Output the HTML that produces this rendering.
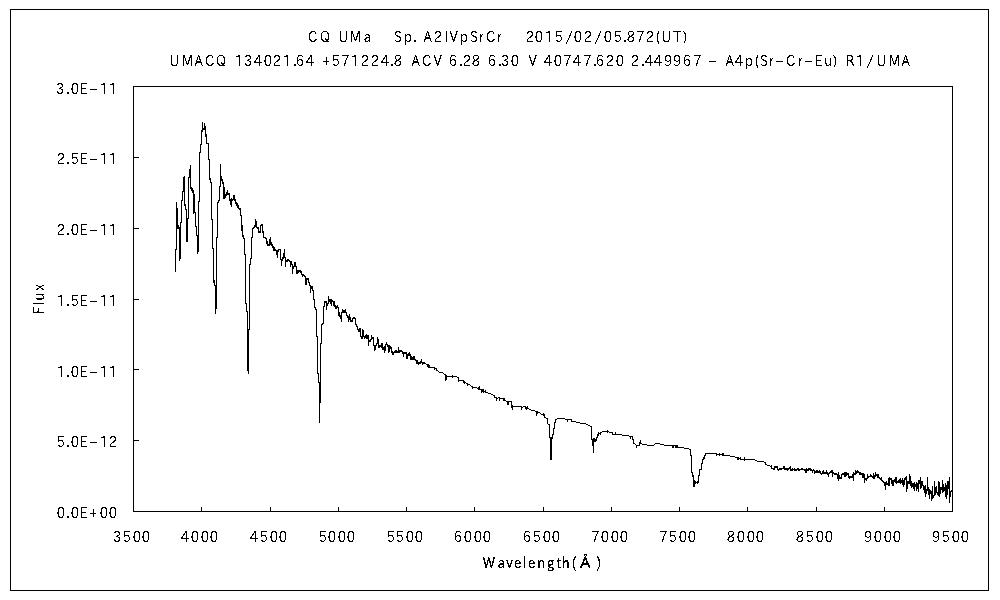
<!DOCTYPE html>
<html lang="ja">
<head>
<meta charset="utf-8">
<title>CQ UMa spectrum</title>
<style>
html,body{margin:0;padding:0;background:#fff;}
body{width:1000px;height:600px;overflow:hidden;}
svg{display:block;}
text{font-family:IPAPGothic, 'DejaVu Sans', 'Liberation Sans', sans-serif;font-size:15.3px;fill:#000;white-space:pre;}
</style>
</head>
<body>
<svg width="1000" height="600" viewBox="0 0 1000 600">
<defs>
<filter id="crisp" x="0" y="0" width="1000" height="600" filterUnits="userSpaceOnUse" color-interpolation-filters="sRGB">
<feComponentTransfer><feFuncA type="discrete" tableValues="0 0 0 0 0 0 0 0 0 1 1 1 1 1 1 1 1 1 1 1"/></feComponentTransfer>
</filter>
<filter id="crisp2" x="0" y="0" width="1000" height="600" filterUnits="userSpaceOnUse" color-interpolation-filters="sRGB">
<feComponentTransfer><feFuncA type="discrete" tableValues="0 0 0 0 0 0 0 1 1 1 1 1 1 1 1 1 1 1 1 1"/></feComponentTransfer>
</filter>
</defs>
<rect x="0" y="0" width="1000" height="600" fill="#fff"/>
<g fill="none" stroke="#000" stroke-width="1" shape-rendering="crispEdges">
<rect x="10.5" y="9.5" width="978" height="581"/>
<rect x="133.5" y="86.5" width="819" height="425"/>
<path d="M201.5 507v4M270.5 507v4M338.5 507v4M406.5 507v4M474.5 507v4M543.5 507v4M611.5 507v4M679.5 507v4M747.5 507v4M816.5 507v4M884.5 507v4M134 157.5h5M134 228.5h5M134 299.5h5M134 369.5h5M134 440.5h5"/>
<path d="M175.5 249v23M176.5 202v48M177.5 208v21M178.5 225v4M179.5 227v34M180.5 222v37M181.5 200v23M182.5 191v10M183.5 177v15M184.5 176v30M185.5 204v6M186.5 209v33M187.5 218v24M188.5 177v42M189.5 169v9M190.5 165v24M191.5 187v4M192.5 188v5M193.5 190v24M194.5 194v19M195.5 212v15M196.5 226v10M197.5 235v19M198.5 201v51M199.5 152v50M200.5 144v9M201.5 130v15M202.5 122v10M203.5 128v2M204.5 123v7M205.5 126v11M206.5 134v10M207.5 143v1M208.5 143v17M209.5 159v21M210.5 178v5M211.5 182v38M212.5 219v30M213.5 248v35M214.5 280v6M215.5 285v29M216.5 237v72M217.5 202v36M218.5 200v3M219.5 186v15M220.5 164v23M221.5 176v5M222.5 179v5M223.5 182v17M224.5 187v12M225.5 194v4M226.5 192v4M227.5 190v5M228.5 193v2M229.5 193v8M230.5 199v6M231.5 198v9M232.5 199v2M233.5 195v5M234.5 195v6M235.5 199v5M236.5 202v4M237.5 203v5M238.5 205v4M239.5 208v2M240.5 208v8M241.5 215v16M242.5 225v12M243.5 235v4M244.5 238v17M245.5 254v50M246.5 303v9M247.5 311v60M248.5 329v45M249.5 264v66M250.5 258v7M251.5 237v22M252.5 228v10M253.5 227v2M254.5 225v3M255.5 219v8M256.5 221v7M257.5 227v2M258.5 227v6M259.5 231v2M260.5 225v8M261.5 224v2M262.5 224v9M263.5 231v7M264.5 237v1M265.5 237v2M266.5 238v6M267.5 241v5M268.5 244v2M269.5 239v7M270.5 237v8M271.5 242v4M272.5 244v4M273.5 246v5M274.5 247v4M275.5 249v2M276.5 250v5M277.5 250v8M278.5 249v3M279.5 249v1M280.5 249v11M281.5 259v7M282.5 257v4M283.5 253v6M284.5 249v9M285.5 257v10M286.5 260v2M287.5 259v3M288.5 259v2M289.5 260v2M290.5 261v6M291.5 261v4M292.5 264v10M293.5 266v3M294.5 262v5M295.5 262v5M296.5 266v8M297.5 270v4M298.5 270v3M299.5 270v2M300.5 270v3M301.5 271v4M302.5 274v3M303.5 274v2M304.5 275v2M305.5 276v9M306.5 278v7M307.5 278v2M308.5 278v5M309.5 282v4M310.5 285v8M311.5 286v3M312.5 286v5M313.5 290v10M314.5 299v9M315.5 307v3M316.5 309v28M317.5 336v38M318.5 373v10M319.5 382v41M320.5 343v60M321.5 324v20M322.5 323v2M323.5 306v18M324.5 301v6M325.5 301v2M326.5 301v9M327.5 303v3M328.5 296v8M329.5 299v3M330.5 299v5M331.5 299v7M332.5 300v2M333.5 301v5M334.5 301v6M335.5 305v4M336.5 306v3M337.5 305v3M338.5 307v9M339.5 312v5M340.5 315v4M341.5 312v10M342.5 309v4M343.5 310v3M344.5 310v3M345.5 309v4M346.5 312v4M347.5 315v3M348.5 316v6M349.5 314v6M350.5 317v5M351.5 320v2M352.5 318v4M353.5 317v2M354.5 317v2M355.5 318v7M356.5 324v3M357.5 326v4M358.5 329v3M359.5 328v4M360.5 328v9M361.5 336v3M362.5 329v10M363.5 330v7M364.5 336v3M365.5 335v3M366.5 334v5M367.5 335v4M368.5 335v11M369.5 340v2M370.5 339v3M371.5 335v5M372.5 337v2M373.5 337v9M374.5 345v6M375.5 345v5M376.5 343v3M377.5 337v7M378.5 339v9M379.5 345v3M380.5 345v2M381.5 343v5M382.5 343v7M383.5 347v3M384.5 346v7M385.5 344v7M386.5 342v3M387.5 344v3M388.5 345v8M389.5 345v7M390.5 346v3M391.5 347v6M392.5 351v4M393.5 352v3M394.5 351v2M395.5 350v3M396.5 350v3M397.5 351v2M398.5 347v6M399.5 350v3M400.5 350v2M401.5 350v2M402.5 351v3M403.5 352v5M404.5 352v2M405.5 352v2M406.5 352v7M407.5 354v5M408.5 353v3M409.5 352v4M410.5 354v6M411.5 356v4M412.5 357v3M413.5 356v4M414.5 356v4M415.5 359v2M416.5 360v4M417.5 360v4M418.5 362v3M419.5 362v2M420.5 361v3M421.5 359v4M422.5 362v3M423.5 362v2M424.5 362v2M425.5 363v1M426.5 364v1M427.5 364v3M428.5 364v4M429.5 365v3M430.5 367v1M431.5 367v1M432.5 367v1M433.5 367v1M434.5 367v3M435.5 368v1M436.5 368v3M437.5 370v1M438.5 371v1M439.5 372v1M440.5 372v1M441.5 372v1M442.5 372v1M443.5 373v1M444.5 374v1M445.5 374v7M446.5 375v5M447.5 376v1M448.5 376v1M449.5 376v1M450.5 376v1M451.5 376v1M452.5 375v3M453.5 376v1M454.5 376v1M455.5 376v1M456.5 376v1M457.5 377v1M458.5 377v5M459.5 380v1M460.5 380v1M461.5 380v1M462.5 380v1M463.5 380v3M464.5 381v3M465.5 382v1M466.5 383v1M467.5 383v3M468.5 384v1M469.5 384v1M470.5 385v1M471.5 386v1M472.5 386v3M473.5 387v1M474.5 387v1M475.5 387v1M476.5 387v1M477.5 388v1M478.5 387v3M479.5 386v4M480.5 389v1M481.5 389v4M482.5 389v3M483.5 389v4M484.5 391v1M485.5 390v3M486.5 392v1M487.5 392v1M488.5 393v1M489.5 393v1M490.5 393v1M491.5 394v1M492.5 394v1M493.5 395v1M494.5 395v3M495.5 397v1M496.5 397v4M497.5 398v1M498.5 397v1M499.5 397v4M500.5 398v1M501.5 398v1M502.5 398v1M503.5 398v3M504.5 398v3M505.5 400v1M506.5 401v1M507.5 401v4M508.5 401v4M509.5 401v1M510.5 401v1M511.5 401v7M512.5 405v5M513.5 406v1M514.5 406v1M515.5 406v1M516.5 406v1M517.5 406v1M518.5 406v1M519.5 406v1M520.5 406v1M521.5 406v4M522.5 407v1M523.5 406v1M524.5 406v1M525.5 406v3M526.5 407v3M527.5 406v3M528.5 408v1M529.5 409v1M530.5 409v1M531.5 410v1M532.5 410v1M533.5 410v1M534.5 410v1M535.5 411v1M536.5 411v5M537.5 411v3M538.5 412v1M539.5 412v1M540.5 413v1M541.5 414v1M542.5 414v1M543.5 413v3M544.5 414v4M545.5 417v1M546.5 418v1M547.5 418v6M548.5 424v1M549.5 424v14M550.5 437v23M551.5 437v23M552.5 434v5M553.5 428v7M554.5 422v7M555.5 419v4M556.5 419v1M557.5 418v1M558.5 418v1M559.5 418v1M560.5 418v1M561.5 418v1M562.5 418v1M563.5 418v1M564.5 418v1M565.5 419v1M566.5 419v1M567.5 419v3M568.5 419v1M569.5 419v1M570.5 419v1M571.5 419v3M572.5 421v1M573.5 421v1M574.5 421v1M575.5 421v1M576.5 422v1M577.5 422v1M578.5 422v1M579.5 422v1M580.5 423v1M581.5 423v1M582.5 423v1M583.5 423v1M584.5 423v1M585.5 423v1M586.5 424v1M587.5 424v1M588.5 425v1M589.5 425v1M590.5 426v1M591.5 426v14M592.5 439v7M593.5 438v15M594.5 438v4M595.5 439v3M596.5 437v4M597.5 434v4M598.5 432v4M599.5 433v1M600.5 432v3M601.5 432v1M602.5 431v1M603.5 431v1M604.5 431v1M605.5 431v1M606.5 431v1M607.5 430v3M608.5 431v1M609.5 432v1M610.5 432v1M611.5 432v1M612.5 432v3M613.5 434v1M614.5 434v1M615.5 432v3M616.5 434v1M617.5 434v1M618.5 434v1M619.5 434v1M620.5 434v1M621.5 434v1M622.5 435v1M623.5 435v1M624.5 435v1M625.5 435v1M626.5 435v1M627.5 435v1M628.5 435v1M629.5 436v1M630.5 436v3M631.5 436v1M632.5 436v4M633.5 439v5M634.5 443v1M635.5 444v1M636.5 445v3M637.5 445v1M638.5 445v1M639.5 442v4M640.5 440v4M641.5 443v1M642.5 444v1M643.5 444v1M644.5 444v1M645.5 444v1M646.5 444v1M647.5 445v1M648.5 445v1M649.5 445v1M650.5 445v1M651.5 445v1M652.5 445v1M653.5 445v1M654.5 444v1M655.5 443v1M656.5 443v1M657.5 443v1M658.5 443v1M659.5 443v1M660.5 444v1M661.5 444v1M662.5 444v1M663.5 444v1M664.5 445v1M665.5 445v1M666.5 445v1M667.5 445v1M668.5 445v1M669.5 445v1M670.5 445v1M671.5 445v1M672.5 445v3M673.5 445v3M674.5 445v1M675.5 445v3M676.5 445v3M677.5 445v3M678.5 447v1M679.5 447v1M680.5 447v1M681.5 447v1M682.5 447v1M683.5 447v1M684.5 448v1M685.5 448v1M686.5 448v1M687.5 448v1M688.5 448v1M689.5 449v1M690.5 449v7M691.5 455v18M692.5 472v5M693.5 475v12M694.5 480v7M695.5 481v3M696.5 482v1M697.5 481v3M698.5 475v8M699.5 469v7M700.5 469v1M701.5 463v7M702.5 459v5M703.5 457v3M704.5 455v4M705.5 453v3M706.5 453v1M707.5 453v1M708.5 453v1M709.5 453v1M710.5 453v1M711.5 453v1M712.5 453v1M713.5 453v1M714.5 453v1M715.5 453v1M716.5 453v3M717.5 454v1M718.5 454v1M719.5 453v3M720.5 454v1M721.5 454v1M722.5 453v3M723.5 453v3M724.5 455v1M725.5 455v1M726.5 455v1M727.5 455v1M728.5 455v1M729.5 455v1M730.5 456v1M731.5 456v1M732.5 456v1M733.5 456v1M734.5 456v1M735.5 457v1M736.5 457v1M737.5 457v3M738.5 457v3M739.5 458v1M740.5 457v3M741.5 459v1M742.5 459v1M743.5 459v1M744.5 457v4M745.5 459v1M746.5 459v1M747.5 459v1M748.5 459v1M749.5 459v1M750.5 459v1M751.5 459v1M752.5 459v1M753.5 459v1M754.5 459v1M755.5 460v1M756.5 460v1M757.5 461v1M758.5 461v1M759.5 461v1M760.5 461v1M761.5 461v1M762.5 461v1M763.5 461v1M764.5 462v1M765.5 462v3M766.5 464v1M767.5 465v1M768.5 465v1M769.5 465v1M770.5 466v1M771.5 465v4M772.5 468v1M773.5 468v2M774.5 466v4M775.5 466v2M776.5 466v2M777.5 466v4M778.5 469v2M779.5 468v2M780.5 468v2M781.5 468v2M782.5 468v1M783.5 466v3M784.5 466v4M785.5 468v2M786.5 468v2M787.5 468v3M788.5 468v2M789.5 467v2M790.5 466v5M791.5 469v2M792.5 468v3M793.5 469v1M794.5 468v3M795.5 469v2M796.5 469v2M797.5 468v2M798.5 468v3M799.5 469v2M800.5 469v1M801.5 468v2M802.5 468v2M803.5 469v1M804.5 469v2M805.5 469v4M806.5 468v5M807.5 469v2M808.5 468v3M809.5 468v2M810.5 468v3M811.5 469v2M812.5 470v3M813.5 469v2M814.5 470v4M815.5 471v2M816.5 470v3M817.5 470v3M818.5 471v2M819.5 470v3M820.5 471v3M821.5 473v2M822.5 471v3M823.5 470v4M824.5 472v2M825.5 472v2M826.5 470v4M827.5 472v3M828.5 473v4M829.5 472v2M830.5 471v2M831.5 470v3M832.5 470v7M833.5 472v2M834.5 473v2M835.5 473v2M836.5 473v2M837.5 474v5M838.5 472v9M839.5 475v4M840.5 477v2M841.5 474v5M842.5 473v2M843.5 473v2M844.5 472v5M845.5 472v5M846.5 472v4M847.5 473v2M848.5 473v5M849.5 476v3M850.5 476v2M851.5 476v2M852.5 474v4M853.5 472v9M854.5 473v2M855.5 470v5M856.5 471v3M857.5 470v3M858.5 471v2M859.5 472v3M860.5 472v3M861.5 473v2M862.5 473v5M863.5 473v5M864.5 474v9M865.5 478v2M866.5 478v3M867.5 474v5M868.5 476v2M869.5 476v1M870.5 474v3M871.5 475v2M872.5 476v2M873.5 473v6M874.5 475v4M875.5 472v5M876.5 474v2M877.5 474v4M878.5 474v4M879.5 477v2M880.5 478v2M881.5 477v4M882.5 480v2M883.5 481v2M884.5 482v4M885.5 482v8M886.5 481v4M887.5 483v2M888.5 478v8M889.5 477v9M890.5 478v2M891.5 478v6M892.5 480v6M893.5 480v6M894.5 479v3M895.5 477v6M896.5 477v7M897.5 481v2M898.5 480v3M899.5 479v4M900.5 478v6M901.5 480v3M902.5 478v7M903.5 480v7M904.5 478v7M905.5 477v3M906.5 476v16M907.5 481v8M908.5 481v3M909.5 474v10M910.5 476v10M911.5 481v7M912.5 483v4M913.5 483v6M914.5 482v9M915.5 484v3M916.5 482v9M917.5 483v6M918.5 480v12M919.5 480v4M920.5 477v12M921.5 481v7M922.5 481v5M923.5 485v5M924.5 486v7M925.5 485v12M926.5 489v5M927.5 477v14M928.5 487v8M929.5 489v10M930.5 490v4M931.5 491v10M932.5 486v13M933.5 495v3M934.5 481v15M935.5 487v8M936.5 486v7M937.5 492v3M938.5 481v15M939.5 482v15M940.5 487v7M941.5 487v3M942.5 480v13M943.5 484v8M944.5 487v4M945.5 483v14M946.5 485v14M947.5 481v14M948.5 481v8M949.5 477v26M950.5 491v6M951.5 490v2"/>
</g>
<g id="labels" filter="url(#crisp)">
<text xml:space="preserve" transform="scale(0.86 1)" y="42"><tspan x="358.17 371.84 385.44">CQ </tspan><tspan x="393.64 406.43 423 431.9 438.87 445.85 452.83">UMa    </tspan><tspan x="458.17 469.51 480.56 484.82">Sp. </tspan><tspan x="492.48 504.4">A2</tspan><tspan x="516.9 522.71 534.63 546.55 556.72 565.15 577.65 585.1 592.07 599.05 606.03">IVpSrCr    </tspan><tspan x="611.37 621.84 633.47 644.8">2015</tspan><tspan x="656.98" textLength="10.41" lengthAdjust="spacingAndGlyphs">/</tspan><tspan x="667.19 678.81">02</tspan><tspan x="690.7" textLength="10.41" lengthAdjust="spacingAndGlyphs">/</tspan><tspan x="702.07 713.41 724.74 728.81 739.86 750.91">05.872</tspan><tspan x="762.53 769.22 783.17 793.93">(UT)</tspan></text>
<text xml:space="preserve" transform="scale(0.86 1)" y="66"><tspan x="197.13 211.08 226.2 238.41 250.91 264.6">UMACQ </tspan><tspan x="273 283.76 295.09 306.72 317.19 328.81 341.02 343.93 355.56 367.2">134021.64 </tspan><tspan x="374.74 385.5 396.84 407.88 419.51 431.14 442.77 453.81 457.88 469.17">+571224.8 </tspan><tspan x="478.52 490.73 504.1 514.86">ACV </tspan><tspan x="521.84 534.05 538.12 548.58 560.45">6.28 </tspan><tspan x="567.19 579.4 582.59 593.93 605.8">6.30 </tspan><tspan x="614.57 625.63">V </tspan><tspan x="632.3 643.93 654.98 666.02 678.23 689.86 692.77 704.4 716.02 727.31">40747.620 </tspan><tspan x="733.47 745.67 749.74 760.21 772.13 782.59 793.93 806.14 817.2">2.449967 </tspan><tspan x="823.26" textLength="11" lengthAdjust="spacingAndGlyphs">-</tspan><tspan x="835.1"> </tspan><tspan x="843.64 854.4 866.02 877.65 883.76 893.93">A4p(Sr</tspan><tspan x="901.16" textLength="11" lengthAdjust="spacingAndGlyphs">-</tspan><tspan x="913.99 927.65">Cr</tspan><tspan x="934.88" textLength="11" lengthAdjust="spacingAndGlyphs">-</tspan><tspan x="947.42 958.47 968.35 974.88">Eu) </tspan><tspan x="983.47 995.09">R1</tspan><tspan x="1006.98" textLength="10.41" lengthAdjust="spacingAndGlyphs">/</tspan><tspan x="1019.22 1033.17 1048.29">UMA</tspan></text>
<text xml:space="preserve" transform="scale(0.86 1)" y="94"><tspan x="65.15">3</tspan><tspan x="77.07">.</tspan><tspan x="82.3">0</tspan><tspan x="92.77">E</tspan><tspan x="103.49" textLength="11" lengthAdjust="spacingAndGlyphs">-</tspan><tspan x="116.02">1</tspan><tspan x="126.49">1</tspan></text>
<text xml:space="preserve" transform="scale(0.86 1)" y="164"><tspan x="66.02">2</tspan><tspan x="77.07">.</tspan><tspan x="82.01">5</tspan><tspan x="92.77">E</tspan><tspan x="103.49" textLength="11" lengthAdjust="spacingAndGlyphs">-</tspan><tspan x="116.02">1</tspan><tspan x="126.49">1</tspan></text>
<text xml:space="preserve" transform="scale(0.86 1)" y="235"><tspan x="66.02">2</tspan><tspan x="77.07">.</tspan><tspan x="82.3">0</tspan><tspan x="92.77">E</tspan><tspan x="103.49" textLength="11" lengthAdjust="spacingAndGlyphs">-</tspan><tspan x="116.02">1</tspan><tspan x="126.49">1</tspan></text>
<text xml:space="preserve" transform="scale(0.86 1)" y="306"><tspan x="66.02">1</tspan><tspan x="77.07">.</tspan><tspan x="82.01">5</tspan><tspan x="92.77">E</tspan><tspan x="103.49" textLength="11" lengthAdjust="spacingAndGlyphs">-</tspan><tspan x="116.02">1</tspan><tspan x="126.49">1</tspan></text>
<text xml:space="preserve" transform="scale(0.86 1)" y="377"><tspan x="66.02">1</tspan><tspan x="77.07">.</tspan><tspan x="82.3">0</tspan><tspan x="92.77">E</tspan><tspan x="103.49" textLength="11" lengthAdjust="spacingAndGlyphs">-</tspan><tspan x="116.02">1</tspan><tspan x="126.49">1</tspan></text>
<text xml:space="preserve" transform="scale(0.86 1)" y="447"><tspan x="65.73">5</tspan><tspan x="77.07">.</tspan><tspan x="82.3">0</tspan><tspan x="92.77">E</tspan><tspan x="103.49" textLength="11" lengthAdjust="spacingAndGlyphs">-</tspan><tspan x="116.02">1</tspan><tspan x="126.49">2</tspan></text>
<text xml:space="preserve" transform="scale(0.86 1)" y="518"><tspan x="66.02">0</tspan><tspan x="77.07">.</tspan><tspan x="82.3">0</tspan><tspan x="92.77">E</tspan><tspan x="103.81">+</tspan><tspan x="116.02">0</tspan><tspan x="126.49">0</tspan></text>
<text xml:space="preserve" transform="scale(0.86 1)" y="542"><tspan x="131.43 142.48 154.4 164.86">3500</tspan></text>
<text xml:space="preserve" transform="scale(0.86 1)" y="542"><tspan x="210.21 221.84 233.47 243.93">4000</tspan></text>
<text xml:space="preserve" transform="scale(0.86 1)" y="542"><tspan x="290.44 301.78 313.7 324.16">4500</tspan></text>
<text xml:space="preserve" transform="scale(0.86 1)" y="542"><tspan x="370.38 381.14 392.77 403.23">5000</tspan></text>
<text xml:space="preserve" transform="scale(0.86 1)" y="542"><tspan x="449.45 459.92 471.84 482.3">5500</tspan></text>
<text xml:space="preserve" transform="scale(0.86 1)" y="542"><tspan x="527.65 539.28 550.91 561.37">6000</tspan></text>
<text xml:space="preserve" transform="scale(0.86 1)" y="542"><tspan x="607.88 619.22 631.14 641.6">6500</tspan></text>
<text xml:space="preserve" transform="scale(0.86 1)" y="542"><tspan x="687.53 698.58 710.21 720.67">7000</tspan></text>
<text xml:space="preserve" transform="scale(0.86 1)" y="542"><tspan x="766.6 777.36 789.28 799.74">7500</tspan></text>
<text xml:space="preserve" transform="scale(0.86 1)" y="542"><tspan x="845.09 856.72 868.35 878.81">8000</tspan></text>
<text xml:space="preserve" transform="scale(0.86 1)" y="542"><tspan x="925.33 936.66 948.58 959.05">8500</tspan></text>
<text xml:space="preserve" transform="scale(0.86 1)" y="542"><tspan x="1004.69 1016.02 1027.65 1038.12">9000</tspan></text>
<text xml:space="preserve" transform="scale(0.86 1)" y="542"><tspan x="1083.76 1094.8 1106.72 1117.19">9500</tspan></text>
<text xml:space="preserve" transform="translate(44 314.8) rotate(-90) scale(0.86 1)" y="0"><tspan x="0.62 11.37 16.6 28.23">Flux</tspan></text>
</g>
<g id="axistitle" filter="url(#crisp2)">
<text xml:space="preserve" transform="scale(0.86 1)" y="568"><tspan x="561.37 578.81 588.7 597.71 607.88 613.99 624.74 636.08 647.13 653.23">Wavelength</tspan><tspan x="664.86">(</tspan><tspan x="674.42" textLength="12.09" lengthAdjust="spacingAndGlyphs">Å</tspan><tspan x="693.93">)</tspan></text>
</g>
</svg>
</body>
</html>
